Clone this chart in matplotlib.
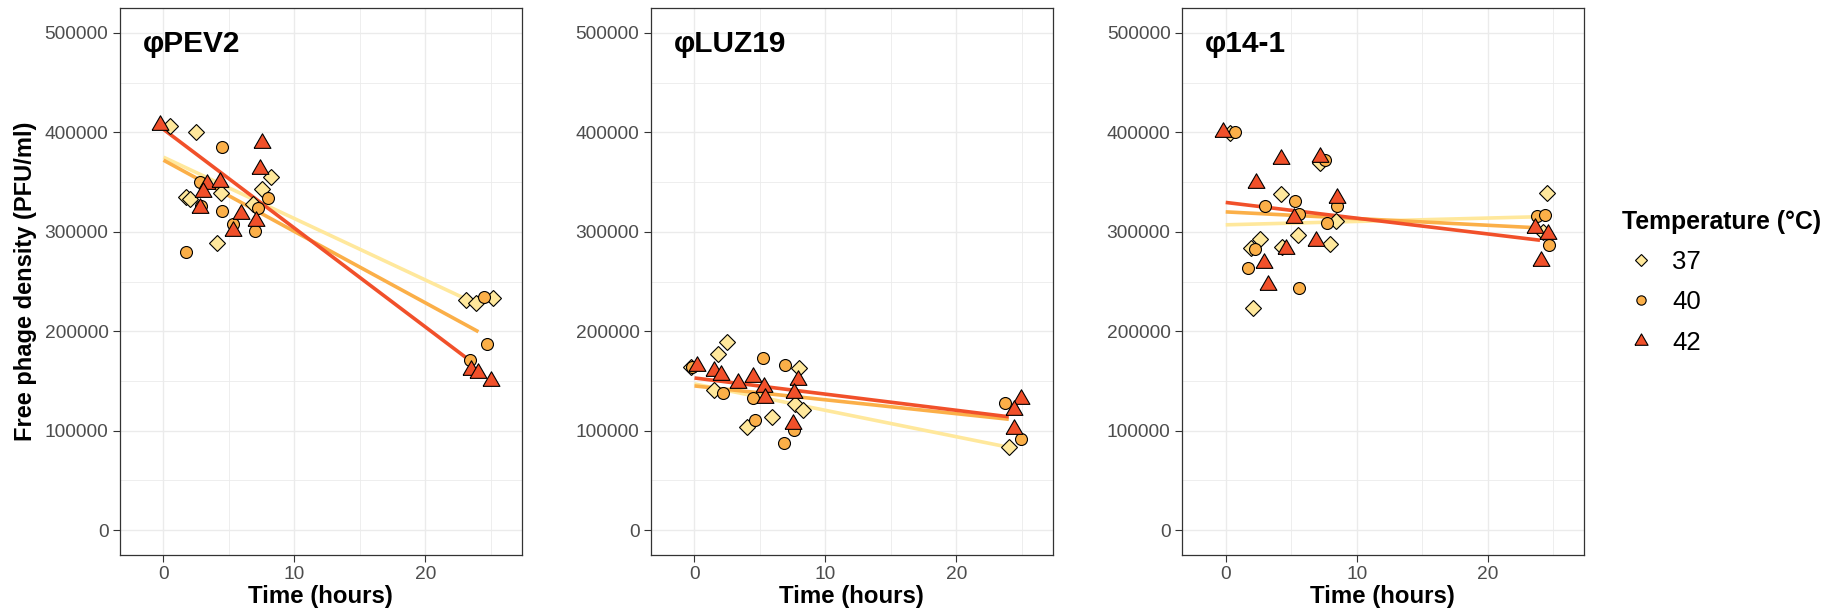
import numpy as np
import matplotlib
matplotlib.use("Agg")
import matplotlib.pyplot as plt
from matplotlib.lines import Line2D
from matplotlib.ticker import MultipleLocator

plt.rcParams['font.family'] = ['Liberation Sans', 'DejaVu Sans']

temps = ['37', '40', '42']
colors = ['#FFE89C', '#FBAF48', '#F1502A']

# phiPEV2 (jittered times as drawn)
pev2_t37 = [0.5, 2.5, 8.2, 7.5, 4.4, 1.7, 2.0, 6.8, 4.1, 23.1, 23.9, 25.2]
pev2_y37 = [406000, 400000, 355000, 343000, 339000, 335000, 333000, 328000, 289000, 231000, 228500, 233500]
pev2_t40 = [4.5, 2.8, 2.85, 4.5, 5.3, 7.2, 8.0, 7.0, 1.7, 24.5, 24.7, 23.4]
pev2_y40 = [385000, 350500, 326000, 320500, 308000, 324000, 334000, 301000, 280000, 234500, 187500, 171000]
pev2_t42 = [-0.3, 7.5, 7.4, 3.3, 4.3, 3.0, 2.75, 5.9, 5.3, 7.1, 23.5, 24.0, 25.0]
pev2_y42 = [407000, 389000, 363000, 348000, 350500, 339500, 324000, 318000, 301000, 311000, 161000, 158000, 150000]

# phiLUZ19
luz19_t37 = [-0.3, 2.5, 1.8, 8.0, 1.5, 7.7, 8.3, 5.9, 4.0, 24.0]
luz19_y37 = [164000, 189500, 177500, 163500, 141000, 126500, 121000, 114000, 104000, 84000]
luz19_t40 = [-0.2, 5.2, 6.9, 2.15, 4.5, 4.65, 7.6, 6.8, 23.7, 24.9]
luz19_y40 = [164000, 173000, 166500, 137500, 132500, 110500, 100500, 87500, 127500, 91500]
luz19_t42 = [0.2, 1.5, 2.0, 3.3, 4.5, 5.3, 5.4, 7.9, 7.6, 7.5, 24.9, 24.4, 24.4]
luz19_y42 = [165500, 160500, 155500, 148000, 153500, 144000, 133000, 151000, 137500, 106500, 131500, 121000, 102000]

# phi14-1
p141_t37 = [0.3, 4.2, 7.2, 8.4, 2.6, 5.5, 8.0, 4.3, 1.9, 2.1, 24.5, 24.2]
p141_y37 = [399000, 338000, 369000, 310500, 293000, 297000, 288000, 284500, 283500, 223500, 339000, 300000]
p141_t40 = [0.7, 7.6, 5.3, 3.0, 8.5, 5.6, 7.7, 2.25, 1.7, 5.6, 23.8, 24.4, 24.7]
p141_y40 = [400500, 372000, 330500, 326000, 325500, 318000, 308500, 282500, 263500, 243000, 315500, 317000, 287000]
p141_t42 = [-0.2, 4.2, 7.2, 2.3, 8.5, 5.2, 6.9, 4.6, 2.9, 3.2, 23.6, 24.6, 24.1]
p141_y42 = [400500, 373000, 375500, 349000, 334000, 313500, 291000, 282500, 268500, 246000, 303500, 298000, 271000]

# fitted trend lines per temperature (37, 40, 42): value at t=0, last time, value there
pev2_fit_start = [375000, 372000, 403000]
pev2_fit_tend = [23.0, 24.05, 23.3]
pev2_fit_end = [233000, 199500, 171500]
luz19_fit_start = [147000, 145000, 153000]
luz19_fit_tend = [23.55, 24.0, 24.0]
luz19_fit_end = [84500, 111500, 114000]
p141_fit_start = [307000, 320000, 329500]
p141_fit_tend = [23.6, 23.8, 24.0]
p141_fit_end = [315000, 304000, 291500]

phages = ['φPEV2', 'φLUZ19', 'φ14-1']
times = [[pev2_t37, pev2_t40, pev2_t42], [luz19_t37, luz19_t40, luz19_t42], [p141_t37, p141_t40, p141_t42]]
dens = [[pev2_y37, pev2_y40, pev2_y42], [luz19_y37, luz19_y40, luz19_y42], [p141_y37, p141_y40, p141_y42]]
fit_start = [pev2_fit_start, luz19_fit_start, p141_fit_start]
fit_tend = [pev2_fit_tend, luz19_fit_tend, p141_fit_tend]
fit_end = [pev2_fit_end, luz19_fit_end, p141_fit_end]

# equilateral triangle like ggplot shape 24
tri = [(-1, -0.577), (1, -0.577), (0, 1.155), (-1, -0.577)]
markers = ['D', 'o', tri]
msizes = [8.3, 8.6, 14]

W, H = 1827, 614
fig = plt.figure(figsize=(W / 100, H / 100), dpi=100)
lefts = [119.5, 650.5, 1181.7]
aw, top, bottom = 402.4, 8, 555

for i, ax_left in enumerate(lefts):
    ax = fig.add_axes([ax_left / W, 1 - bottom / H, aw / W, (bottom - top) / H])
    for k in range(3):
        ax.plot([0, fit_tend[i][k]], [fit_start[i][k], fit_end[i][k]],
                color=colors[k], lw=2.6, solid_capstyle='butt', zorder=2)
    for k in range(3):
        ax.plot(times[i][k], dens[i][k], ls='none', marker=markers[k], ms=msizes[k],
                mfc=colors[k], mec='black', mew=0.8, zorder=3 + k)
    ax.set_xlim(-3.36, 27.37)
    ax.set_ylim(-25000, 525000)
    ax.set_xticks([0, 10, 20])
    ax.set_yticks(np.arange(0, 500001, 100000))
    ax.xaxis.set_minor_locator(MultipleLocator(5))
    ax.yaxis.set_minor_locator(MultipleLocator(50000))
    ax.grid(which='major', color='#EBEBEB', lw=1.0, zorder=0)
    ax.grid(which='minor', color='#EBEBEB', lw=0.6, zorder=0)
    ax.set_axisbelow(True)
    ax.tick_params(which='major', direction='out', length=5, width=0.8, color='#333333',
                   labelsize=13.8, labelcolor='#4D4D4D', pad=3)
    ax.tick_params(which='minor', length=0)
    for sp in ax.spines.values():
        sp.set_color('#333333')
        sp.set_linewidth(0.9)
    ax.set_xlabel('Time (hours)', fontsize=17.3, fontweight='bold', labelpad=1)
    ax.text(0.058, 0.934, phages[i], transform=ax.transAxes, fontsize=21.5,
            fontweight='bold', ha='left', va='center')
    if i == 0:
        ax.set_ylabel('Free phage density (PFU/ml)', fontsize=17, fontweight='bold')
        ax.yaxis.set_label_coords(-0.205, 0.5)

handles = [Line2D([], [], ls='none', marker=markers[k], ms=msizes[k] * 0.78, mfc=colors[k],
                  mec='black', mew=0.8) for k in range(3)]
leg = fig.legend(handles, temps, title='Temperature (°C)', loc='upper left',
                 bbox_to_anchor=(1622 / W, 1 - 209.5 / H), frameon=False, borderpad=0,
                 borderaxespad=0, fontsize=18.5,
                 title_fontproperties={'weight': 'bold', 'size': 17.8},
                 handlelength=1.45, handletextpad=0.5, labelspacing=0.64, alignment='left')

fig.savefig('out.png', dpi=100)
